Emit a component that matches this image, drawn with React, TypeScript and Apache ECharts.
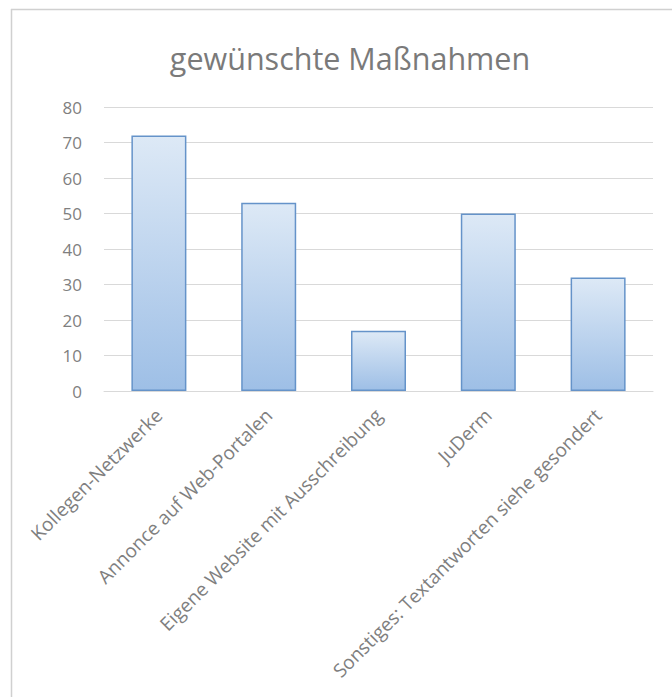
import React, { useEffect, useRef } from "react";
import * as echarts from "echarts";

const titleText = "gewünschte Maßnahmen";
const categories = [
  "Kollegen-Netzwerke",
  "Annonce auf Web-Portalen",
  "Eigene Website mit Ausschreibung",
  "JuDerm",
  "Sonstiges: Textantworten siehe gesondert",
];
const values = [72, 53, 17, 50, 32];
const yMin = 0;
const yMax = 80;
const yInterval = 10;

export default function App() {
  const ref = useRef<HTMLDivElement>(null);
  useEffect(() => {
    document.body.style.margin = "0";
    const chart = echarts.init(ref.current!, null, { renderer: "svg" });
    const font = "'Open Sans', sans-serif";
    chart.setOption({
      animation: false,
      backgroundColor: "#ffffff",
      title: {
        text: titleText,
        left: 345,
        top: 37,
        textAlign: "center",
        textStyle: { fontFamily: font, fontSize: 30.5, fontWeight: "normal", color: "#7a7a7a" },
      },
      graphic: [
        { type: "line", shape: { x1: 11, y1: 9.5, x2: 672, y2: 9.5 }, style: { stroke: "#d0d0d0", lineWidth: 1.5 } },
        { type: "line", shape: { x1: 11.5, y1: 9, x2: 11.5, y2: 697 }, style: { stroke: "#d0d0d0", lineWidth: 1.5 } },
      ],
      grid: { left: 104, right: 19, top: 107, bottom: 306, containLabel: false, outerBoundsMode: "none" },
      xAxis: {
        type: "category",
        data: categories,
        axisTick: { show: false },
        axisLine: { lineStyle: { color: "#d9d9d9", width: 1 } },
        axisLabel: {
          rotate: 45,
          interval: 0,
          margin: 21,
          color: "#7f7f7f",
          fontFamily: font,
          fontSize: 19,
        },
      },
      yAxis: {
        type: "value",
        min: yMin,
        max: yMax,
        interval: yInterval,
        axisLine: { show: false },
        axisTick: { show: false },
        splitLine: { lineStyle: { color: "#d9d9d9", width: 1 } },
        axisLabel: { margin: 22, color: "#7f7f7f", fontFamily: font, fontSize: 17 },
      },
      series: [
        {
          type: "bar",
          data: values,
          barWidth: 55,
          itemStyle: {
            color: new echarts.graphic.LinearGradient(0, 0, 0, 1, [
              { offset: 0, color: "#dde9f6" },
              { offset: 1, color: "#9ebfe6" },
            ]),
            borderColor: "#6593c9",
            borderWidth: 1.5,
          },
        },
      ],
    });
    return () => chart.dispose();
  }, []);
  return <div ref={ref} style={{ width: 672, height: 697 }} />;
}
